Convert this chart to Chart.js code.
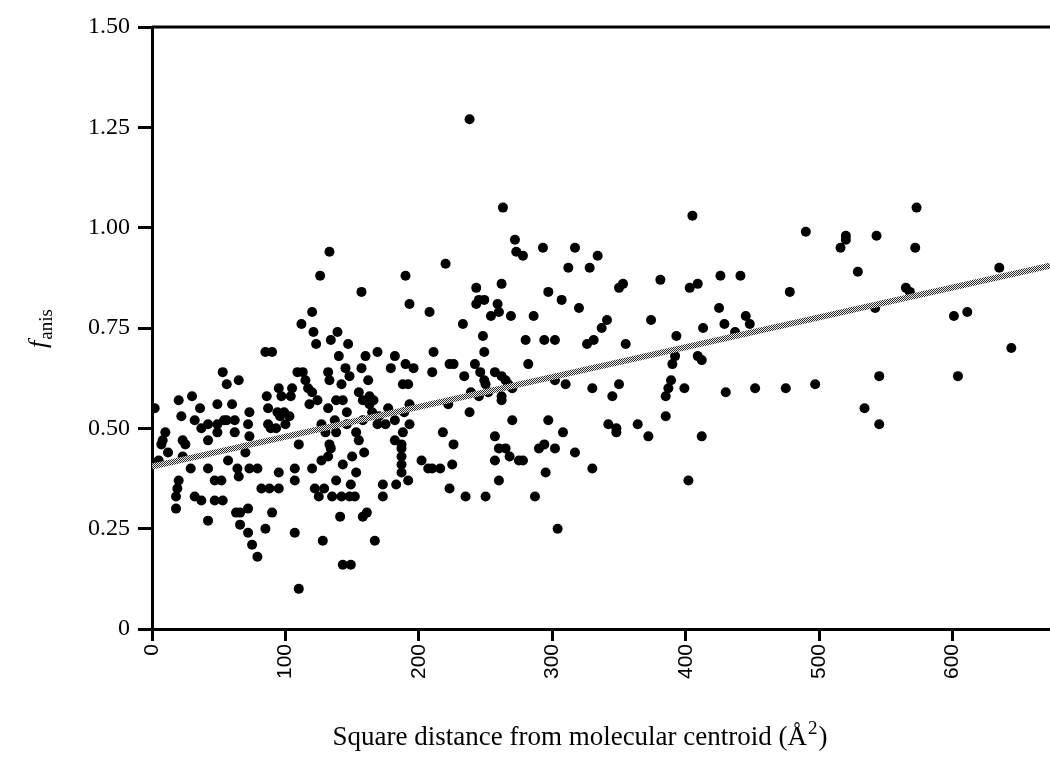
<!DOCTYPE html>
<html>
<head>
<meta charset="utf-8">
<script src="https://cdn.jsdelivr.net/npm/chart.js@4"></script>
<style>
  body { margin: 0; background: #fff; }
</style>
</head>
<body>
<canvas id="chart" width="1050" height="759"></canvas>
<script>
// square distance from molecular centroid (A^2)
var distSq = [
  133,126,157,120,112,121,139,134,123,147,
  85,90,169,140,160,182,145,157,179,53,
  65,56,109,113,132,133,148,162,142,115,
  117,120,95,105,104,97,86,30,20,155,
  158,163,166,138,143,124,118,163,2,36,
  49,60,73,87,94,99,103,96,132,146,
  177,170,22,32,37,42,49,54,56,62,
  72,87,89,100,127,137,138,146,158,165,
  169,175,182,10,8,7,23,25,49,62,
  73,93,110,130,153,155,182,12,23,42,
  57,70,133,134,132,150,159,5,29,42,
  64,65,73,79,95,107,107,120,127,143,
  153,20,19,18,47,52,82,88,95,122,
  125,129,138,149,142,148,152,135,173,173,
  183,18,32,37,47,53,63,72,66,90,
  141,158,161,42,66,85,72,107,128,167,
  75,79,143,149,110,
  263,405,272,273,278,293,317,334,312,328,
  220,190,262,243,381,409,403,350,353,297,
  307,245,249,243,259,260,193,208,320,286,
  254,269,233,341,337,374,211,248,280,294,
  302,326,331,355,393,249,223,226,190,196,
  242,282,392,390,409,210,246,249,250,257,
  262,265,267,234,188,192,302,310,270,262,
  262,239,245,252,222,330,350,345,389,387,
  385,399,193,189,238,193,188,218,226,270,
  297,308,257,342,348,348,364,372,385,187,
  187,187,187,187,202,207,210,216,225,260,
  265,268,257,275,278,290,294,302,317,295,
  330,260,192,223,402,250,235,287,304,238,
  573,490,520,520,543,572,516,529,635,426,
  441,478,565,568,425,445,448,413,429,437,
  542,601,611,644,412,545,604,430,452,475,
  497,534,545,412
];

// f_anis for each point above
var fAnis = [
  0.94,0.88,0.84,0.79,0.76,0.74,0.74,0.72,0.71,0.71,
  0.69,0.69,0.69,0.68,0.68,0.68,0.65,0.65,0.65,0.64,
  0.62,0.61,0.64,0.64,0.64,0.62,0.63,0.62,0.61,0.62,
  0.60,0.59,0.60,0.60,0.58,0.58,0.58,0.58,0.57,0.59,
  0.57,0.58,0.57,0.57,0.57,0.57,0.56,0.56,0.55,0.55,
  0.56,0.56,0.54,0.55,0.54,0.54,0.53,0.53,0.55,0.54,
  0.55,0.53,0.53,0.52,0.50,0.51,0.51,0.52,0.52,0.52,
  0.51,0.51,0.50,0.51,0.51,0.52,0.49,0.51,0.52,0.54,
  0.51,0.51,0.52,0.49,0.47,0.46,0.47,0.46,0.49,0.49,
  0.48,0.50,0.46,0.49,0.49,0.47,0.47,0.44,0.43,0.47,
  0.42,0.44,0.46,0.45,0.43,0.43,0.44,0.42,0.40,0.40,
  0.40,0.38,0.40,0.40,0.39,0.40,0.37,0.40,0.42,0.41,
  0.39,0.37,0.35,0.33,0.37,0.37,0.35,0.35,0.35,0.35,
  0.33,0.35,0.37,0.36,0.33,0.33,0.33,0.33,0.36,0.33,
  0.36,0.30,0.33,0.32,0.32,0.32,0.29,0.30,0.29,0.29,
  0.28,0.28,0.29,0.27,0.26,0.25,0.24,0.24,0.22,0.22,
  0.21,0.18,0.16,0.16,0.10,
  1.05,1.03,0.97,0.94,0.93,0.95,0.95,0.93,0.90,0.90,
  0.91,0.88,0.86,0.85,0.87,0.86,0.85,0.85,0.86,0.84,
  0.82,0.82,0.82,0.81,0.81,0.79,0.81,0.79,0.80,0.78,
  0.78,0.78,0.76,0.77,0.75,0.77,0.69,0.73,0.72,0.72,
  0.72,0.71,0.72,0.71,0.73,0.69,0.66,0.66,0.66,0.65,
  0.66,0.66,0.68,0.66,0.68,0.64,0.64,0.62,0.61,0.64,
  0.63,0.62,0.61,0.63,0.61,0.61,0.62,0.61,0.60,0.58,
  0.57,0.59,0.58,0.59,0.56,0.60,0.61,0.58,0.62,0.60,
  0.58,0.60,0.56,0.54,0.54,0.51,0.49,0.49,0.46,0.52,
  0.52,0.49,0.48,0.51,0.50,0.49,0.51,0.48,0.53,0.46,
  0.45,0.43,0.41,0.39,0.42,0.40,0.40,0.40,0.41,0.45,
  0.45,0.43,0.42,0.42,0.42,0.45,0.46,0.45,0.44,0.39,
  0.40,0.37,0.37,0.35,0.37,0.33,0.33,0.33,0.25,1.27,
  1.05,0.99,0.98,0.97,0.98,0.95,0.95,0.89,0.90,0.88,
  0.88,0.84,0.85,0.84,0.80,0.78,0.76,0.75,0.76,0.74,
  0.80,0.78,0.79,0.70,0.67,0.63,0.63,0.59,0.60,0.60,
  0.61,0.55,0.51,0.48
];

var xTicks = [0, 100, 200, 300, 400, 500, 600];
var yTicks = [0, 0.25, 0.5, 0.75, 1, 1.25, 1.5];
var yTickLabels = ['0', '0.25', '0.50', '0.75', '1.00', '1.25', '1.50'];
var xMax = 673;

// regression line
var fitIntercept = 0.405;
var fitSlope = 0.000743;

function hatch() {
    var pc = document.createElement('canvas');
    pc.width = 4;
    pc.height = 4;
    var g = pc.getContext('2d');
    g.fillStyle = '#ececec';
    g.fillRect(0, 0, 4, 4);
    g.fillStyle = '#2a2a2a';
    for (var i = 0; i < 4; i++) {
        g.fillRect(i, i, 1, 1);
        g.fillRect((i + 2) % 4, i, 1, 1);
    }
    return g.createPattern(pc, 'repeat');
}

var points = distSq.map(function (x, i) {
    return {x: x, y: fAnis[i]};
});
var fitLine = [
    {x: 0, y: fitIntercept},
    {x: xMax, y: fitIntercept + fitSlope * xMax}
];

var frameAndTitles = {
    id: 'frameAndTitles',
    afterDraw: function (chart) {
        var ctx = chart.ctx;
        var a = chart.chartArea;
        ctx.save();
        // top frame line
        ctx.strokeStyle = '#000';
        ctx.lineWidth = 3;
        ctx.beginPath();
        ctx.moveTo(a.left, a.top);
        ctx.lineTo(a.right, a.top);
        ctx.stroke();

        ctx.fillStyle = '#000';
        ctx.textBaseline = 'alphabetic';

        // x title with superscript 2
        var main = 'Square distance from molecular centroid (\u00C5';
        ctx.font = '27px "Liberation Serif"';
        var w1 = ctx.measureText(main).width;
        var w3 = ctx.measureText(')').width;
        ctx.font = '19px "Liberation Serif"';
        var w2 = ctx.measureText('2').width;
        var x0 = 579 - (w1 + w2 + w3) / 2;
        var base = 745;
        ctx.font = '27px "Liberation Serif"';
        ctx.fillText(main, x0, base);
        ctx.font = '19px "Liberation Serif"';
        ctx.fillText('2', x0 + w1 + 1, base - 11);
        ctx.font = '27px "Liberation Serif"';
        ctx.fillText(')', x0 + w1 + w2 + 2, base);

        // y title: f with subscript anis
        ctx.translate(40, 329);
        ctx.rotate(-Math.PI / 2);
        ctx.font = 'italic 26px "Liberation Serif"';
        var wf = ctx.measureText('f').width;
        ctx.font = '19px "Liberation Serif"';
        var wa = ctx.measureText('anis').width;
        var sx = -(wf + wa) / 2;
        ctx.font = 'italic 26px "Liberation Serif"';
        ctx.fillText('f', sx, 6);
        ctx.font = '19px "Liberation Serif"';
        ctx.fillText('anis', sx + wf + 1, 12);
        ctx.restore();
    }
};

var ctx = document.getElementById('chart').getContext('2d');
var chart = new Chart(ctx, {
    type: 'scatter',
    data: {
        datasets: [{
                label: 'fit',
                data: fitLine,
                showLine: true,
                borderColor: hatch(),
                borderWidth: 6,
                pointRadius: 0,
                order: 0
            }, {
                label: 'atoms',
                data: points,
                backgroundColor: '#000',
                borderWidth: 0,
                pointRadius: 5,
                order: 1
            }]
    },
    options: {
        responsive: false,
        animation: false,
        layout: {
            autoPadding: false,
            padding: {top: 27, right: 0, bottom: 0, left: 0}
        },
        plugins: {
            legend: {display: false},
            tooltip: {enabled: false}
        },
        scales: {
            x: {
                type: 'linear',
                min: 0,
                max: xMax,
                afterBuildTicks: function (scale) {
                    scale.ticks = xTicks.map(function (v) {
                        return {value: v};
                    });
                },
                afterFit: function (scale) {
                    scale.height = 130;
                    scale.paddingLeft = 0;
                    scale.paddingRight = 0;
                },
                ticks: {
                    autoSkip: false,
                    minRotation: 90,
                    maxRotation: 90,
                    padding: 3,
                    color: '#000',
                    font: {family: '"Liberation Sans"', size: 21}
                },
                grid: {
                    drawOnChartArea: false,
                    drawTicks: true,
                    tickLength: 12,
                    color: '#000',
                    lineWidth: 3
                },
                border: {display: true, color: '#000', width: 3}
            },
            y: {
                min: 0,
                max: 1.5,
                afterBuildTicks: function (scale) {
                    scale.ticks = yTicks.map(function (v) {
                        return {value: v};
                    });
                },
                afterFit: function (scale) {
                    scale.width = 152;
                },
                ticks: {
                    padding: 8,
                    color: '#000',
                    font: {family: '"Liberation Serif"', size: 24},
                    callback: function (v) {
                        return yTickLabels[yTicks.indexOf(v)];
                    }
                },
                grid: {
                    drawOnChartArea: false,
                    drawTicks: true,
                    tickLength: 14,
                    color: '#000',
                    lineWidth: 3
                },
                border: {display: true, color: '#000', width: 3}
            }
        }
    },
    plugins: [frameAndTitles]
});
</script>
</body>
</html>
